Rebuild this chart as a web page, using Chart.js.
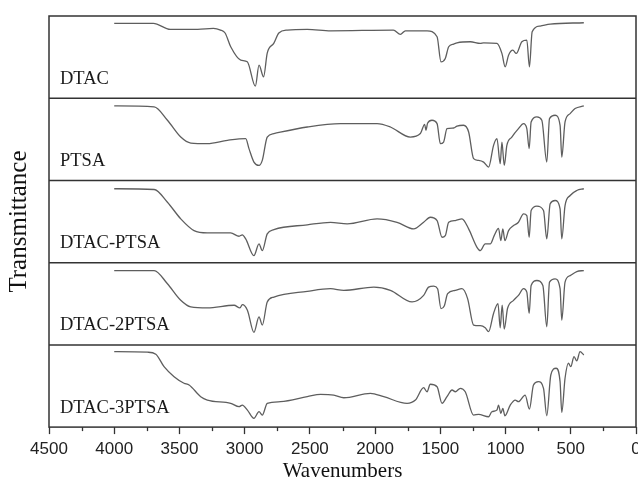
<!DOCTYPE html>
<html>
<head>
<meta charset="utf-8">
<script src="https://cdn.jsdelivr.net/npm/chart.js@4/dist/chart.umd.min.js"></script>
<style>
  html, body { margin: 0; padding: 0; overflow: hidden; background: #fff; }
</style>
</head>
<body>
<canvas id="ftir" width="650" height="485"></canvas>
<script>
// FTIR spectra, wavenumber (cm-1) vs transmittance (arbitrary, 0-100 per panel)
const sampleNames = ["DTAC", "PTSA", "DTAC-PTSA", "DTAC-2PTSA", "DTAC-3PTSA"];

const dtacWn = [4000, 3700, 3570, 3360, 3240, 3185, 3150, 3107, 3030, 2980, 2918, 2890, 2855, 2827, 2776, 2738, 2673, 2520, 2340, 1860, 1806, 1768, 1602, 1525, 1495, 1462, 1436, 1398, 1372, 1270, 1194, 1168, 1066, 1028, 1003, 977, 944, 918, 875, 837, 817, 796, 735, 658, 400];
const dtacT = [91.1, 91.1, 83.8, 83.8, 85, 82.9, 79.3, 62.6, 46.3, 44.3, 14.6, 40.2, 26, 54.9, 67, 79.3, 82.9, 83.8, 82, 82.9, 77.7, 82, 82, 74.8, 44.3, 48.4, 62.6, 65.9, 67.4, 68.7, 66.7, 67.4, 66.7, 54.5, 38.2, 52.4, 58.5, 54.5, 68.7, 70.7, 38.2, 80.9, 87.8, 90.2, 91.8];

const ptsaWn = [4000, 3694, 3592, 3490, 3413, 3286, 3132, 2992, 2967, 2929, 2890, 2865, 2827, 2776, 2520, 2265, 1985, 1883, 1730, 1653, 1620, 1610, 1598, 1564, 1525, 1500, 1475, 1449, 1398, 1372, 1322, 1283, 1245, 1207, 1168, 1130, 1092, 1066, 1041, 1028, 1010, 990, 952, 901, 862, 837, 819, 804, 760, 722, 684, 663, 620, 582, 569, 544, 505, 467, 400];
const ptsaT = [90.6, 89.4, 73.2, 52.8, 45.5, 44.8, 48.8, 50.9, 38.7, 22.3, 18.3, 24.4, 52.8, 57, 65, 69.1, 69.1, 65, 52.8, 57, 68.3, 61, 69.5, 73.2, 69.1, 44.8, 46.7, 63, 63.8, 66.2, 67.1, 58.9, 26.5, 24.4, 22.3, 16.2, 42.7, 50.9, 20.4, 46.7, 18.3, 42.7, 52.8, 63, 69.1, 63, 38.7, 71.1, 77.2, 73.2, 22.3, 75.2, 79.3, 67.1, 28.4, 71.1, 81.3, 87.4, 90.6];

const dtacPtsaWn = [4000, 3694, 3592, 3490, 3388, 3286, 3107, 3043, 3018, 2992, 2929, 2890, 2865, 2827, 2776, 2520, 2342, 2214, 1985, 1832, 1704, 1628, 1577, 1525, 1487, 1462, 1436, 1385, 1334, 1283, 1219, 1194, 1156, 1117, 1087, 1054, 1036, 1021, 1005, 977, 939, 901, 862, 837, 819, 804, 760, 709, 684, 658, 620, 582, 569, 544, 505, 454, 400];
const dtacPtsaT = [89.9, 89, 73.5, 53.3, 39, 36.2, 36.2, 32.1, 33.8, 28.9, 8.5, 22.8, 14.6, 35, 40.2, 46, 49.1, 47.2, 53.3, 49.1, 41.1, 49.1, 55.2, 51.2, 30.9, 32.9, 49.1, 51.2, 53.3, 41.1, 18.7, 14.6, 22.8, 22.8, 32.9, 41.8, 26.8, 41.1, 26.8, 39, 45.1, 49.1, 59.4, 57.3, 30.9, 63.4, 68.7, 63.4, 28.9, 71.6, 75.6, 65.5, 28.9, 69.5, 81.7, 87.8, 89.9];

const dtac2PtsaWn = [4000, 3694, 3592, 3490, 3413, 3286, 3081, 3036, 3018, 2979, 2929, 2890, 2865, 2827, 2776, 2520, 2342, 2240, 2010, 1883, 1717, 1628, 1590, 1551, 1521, 1495, 1470, 1444, 1385, 1334, 1291, 1245, 1194, 1156, 1130, 1092, 1058, 1041, 1026, 1010, 985, 939, 901, 862, 837, 819, 804, 760, 714, 684, 663, 620, 582, 569, 544, 505, 454, 400];
const dtac2PtsaT = [90.4, 90.4, 74.3, 54.2, 46.1, 44.9, 48.2, 44.9, 49, 42.2, 15.3, 34.1, 24.1, 52.2, 58.2, 65.1, 68.3, 66.3, 70.2, 66.3, 52.2, 60.2, 70.2, 71.4, 68.3, 44.2, 47.3, 62.3, 66.3, 68.3, 56.3, 24.1, 23.3, 20.8, 16, 38.2, 50.2, 20.8, 48.2, 19.3, 44.2, 54.2, 60.2, 68.3, 64.2, 38.2, 72.3, 78.3, 72.3, 22, 76.3, 80.4, 68.3, 30.1, 76.3, 84.3, 89.2, 90.4];

const dtac3PtsaWn = [4000, 3745, 3681, 3618, 3541, 3465, 3426, 3337, 3286, 3107, 3043, 3018, 2979, 2929, 2890, 2865, 2827, 2725, 2520, 2418, 2317, 2240, 2036, 1934, 1755, 1691, 1628, 1602, 1577, 1525, 1487, 1449, 1410, 1385, 1347, 1309, 1245, 1207, 1130, 1105, 1066, 1054, 1036, 1021, 1005, 964, 926, 901, 850, 817, 786, 748, 709, 684, 653, 612, 582, 569, 544, 518, 500, 475, 454, 429, 400];
const dtac3PtsaT = [91.8, 91.1, 88.7, 73.5, 61.3, 53.3, 51.2, 37, 32.9, 28.9, 24.8, 26.8, 20.7, 10.6, 18.7, 14.6, 28.9, 30.9, 37, 39.9, 39, 35.7, 41.1, 37, 28.9, 32.9, 47.9, 43, 52.1, 49.1, 28.9, 37, 45.1, 43, 47.2, 43, 14.6, 15.5, 12.6, 18.7, 20.7, 26.8, 16.7, 22.8, 13.8, 26.8, 32.9, 30.9, 39, 22, 51.2, 55.2, 47.2, 13.8, 63.4, 71.6, 55.2, 17.9, 59.4, 77.7, 73.5, 85.7, 80.5, 91.8, 87.8];

const spectraWn = [dtacWn, ptsaWn, dtacPtsaWn, dtac2PtsaWn, dtac3PtsaWn];
const spectraT = [dtacT, ptsaT, dtacPtsaT, dtac2PtsaT, dtac3PtsaT];

const serif = '"Liberation Serif", "Times New Roman", serif';
Chart.defaults.font.family = '"Liberation Sans", Arial, sans-serif';

const datasets = sampleNames.map((name, i) => ({
  label: name,
  data: spectraWn[i].map((w, j) => ({ x: w, y: spectraT[i][j] })),
  yAxisID: "y" + i,
  borderColor: "#5e5e5e",
  borderWidth: 1.3,
  pointRadius: 0,
  cubicInterpolationMode: "monotone",
  fill: false,
}));

const scales = {
  x: {
    type: "linear",
    min: 0,
    max: 4500,
    reverse: true,
    border: { display: false },
    grid: {
      drawOnChartArea: false,
      drawTicks: true,
      tickLength: 7,
      tickColor: "#333",
      tickWidth: 1.3,
    },
    ticks: {
      stepSize: 500,
      padding: 5.5,
      color: "#222",
      font: { size: 17 },
      maxRotation: 0,
      callback: (v) => String(v), // no thousands separator
    },
    title: {
      display: true,
      text: "Wavenumbers",
      color: "#111",
      font: { family: serif, size: 21, lineHeight: 1 },
      padding: { top: -5, bottom: 0 },
    },
  },
};

// left boxes are laid out last-defined on top, so add the bottom panel first
for (let i = sampleNames.length - 1; i >= 0; i--) {
  scales["y" + i] = {
    type: "linear",
    position: "left",
    stack: "spectra",
    stackWeight: 1,
    min: 0,
    max: 100,
    border: { display: false },
    grid: { display: false },
    ticks: { display: false },
    title: {
      display: i === 2, // middle panel carries the shared axis title
      text: "Transmittance",
      color: "#111",
      font: { family: serif, size: 25 },
      padding: { top: 0, bottom: 7 },
    },
  };
}

// frame, panel dividers, panel names and minor x ticks
const panelDecor = {
  id: "panelDecor",
  afterDraw(chart) {
    const { ctx, chartArea } = chart;
    const xScale = chart.scales.x;
    ctx.save();
    ctx.strokeStyle = "#333";
    ctx.lineWidth = 1.5;
    ctx.strokeRect(chartArea.left, chartArea.top, chartArea.width, chartArea.height);

    ctx.font = "18.5px " + serif;
    ctx.fillStyle = "#1a1a1a";
    ctx.textBaseline = "alphabetic";
    sampleNames.forEach((name, i) => {
      const sc = chart.scales["y" + i];
      if (i > 0) {
        ctx.beginPath();
        ctx.moveTo(chartArea.left, sc.top);
        ctx.lineTo(chartArea.right, sc.top);
        ctx.stroke();
      }
      ctx.fillText(name, chartArea.left + 11, sc.bottom - 14.5);
    });

    ctx.lineWidth = 1.3;
    for (let v = 250; v < 4500; v += 500) {
      const px = Math.round(xScale.getPixelForValue(v)) + 0.5;
      ctx.beginPath();
      ctx.moveTo(px, chartArea.bottom);
      ctx.lineTo(px, chartArea.bottom + 4);
      ctx.stroke();
    }
    ctx.restore();
  },
};

new Chart(document.getElementById("ftir").getContext("2d"), {
  type: "line",
  data: { datasets },
  options: {
    responsive: false,
    animation: false,
    layout: { padding: { left: 4, right: 14, top: 16, bottom: 3.5 } },
    scales,
    plugins: {
      legend: { display: false },
      tooltip: { enabled: false },
    },
  },
  plugins: [panelDecor],
});
</script>
</body>
</html>
